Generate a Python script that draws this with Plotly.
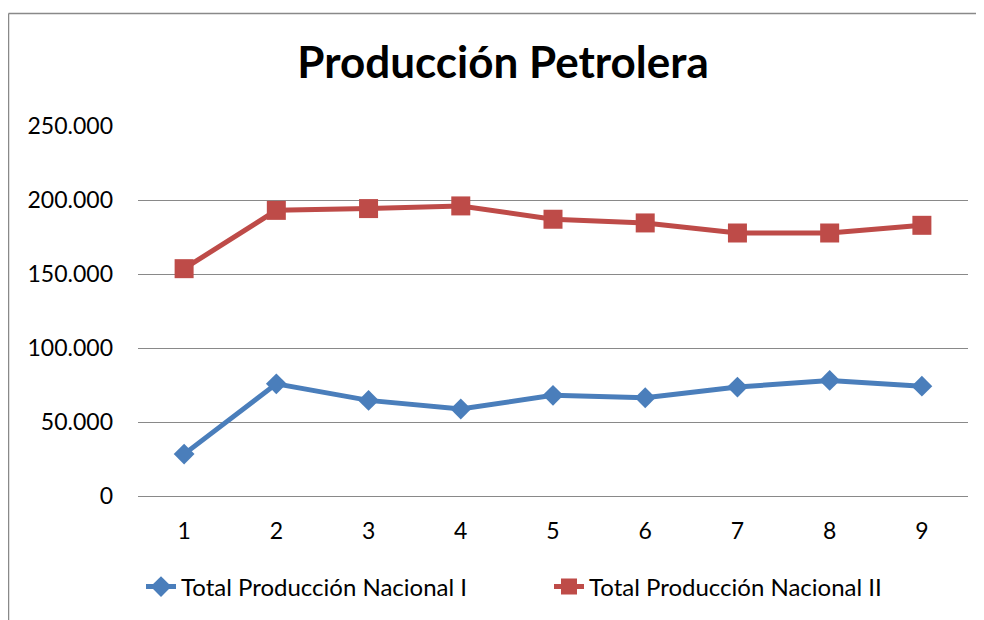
import plotly.graph_objects as go

# periodo (1..9)
periodos = [1, 2, 3, 4, 5, 6, 7, 8, 9]

nacional_1 = [28300, 75800, 64600, 58800, 68000, 66400, 73600, 78100, 74200]
nacional_2 = [153600, 193000, 194200, 196000, 187000, 184500, 177700, 177700, 182900]

nombre_1 = 'Total Producción Nacional I'
nombre_2 = 'Total Producción Nacional II'

azul = '#4A7EBB'
rojo = '#BE4B48'
gris = '#898989'

fig = go.Figure()

fig.add_trace(go.Scatter(
    x=periodos,
    y=nacional_1,
    mode='lines+markers',
    name=nombre_1,
    line=dict(color=azul, width=5),
    marker=dict(symbol='diamond', size=16, color=azul)
))

fig.add_trace(go.Scatter(
    x=periodos,
    y=nacional_2,
    mode='lines+markers',
    name=nombre_2,
    line=dict(color=rojo, width=5),
    marker=dict(symbol='square', size=19, color=rojo)
))

# the page has an 8px body margin, so work in page pixels and shift
OFF = 8
FW, FH = 984 - 2 * OFF, 620 - OFF

# plot area in page pixels: x 138-968, y 126-496
L, R, T, B = 138 - OFF, 968 - OFF, 126 - OFF, 496 - OFF
W = R - L
H = B - T

def px(x):
    return (x - OFF - L) / W

def py(y):
    return (B - (y - OFF)) / H

fig.update_layout(
    width=FW,
    height=FH,
    margin=dict(l=L, r=FW - R, t=T, b=FH - B),
    paper_bgcolor='white',
    plot_bgcolor='white',
    separators=',.',
    font=dict(family='Lato', size=23, color='black'),
    title=dict(
        text='<b>Producción Petrolera</b>',
        font=dict(family='Lato', size=44, color='black'),
        x=(503 - OFF) / FW,
        xanchor='center',
        xref='container',
        y=1 - (63 - OFF) / FH,
        yanchor='middle',
        yref='container'
    ),
    legend=dict(
        orientation='h',
        x=px(141),
        xanchor='left',
        y=py(587),
        yanchor='middle',
        font=dict(family='Lato', size=24, color='black'),
        entrywidth=363,
        entrywidthmode='pixels',
        bgcolor='rgba(0,0,0,0)'
    ),
    showlegend=True
)

fig.update_xaxes(
    range=[0.5, 9.5],
    tickmode='array',
    tickvals=periodos,
    ticktext=[str(p) for p in periodos],
    showgrid=False,
    showline=True,
    linecolor=gris,
    linewidth=1,
    ticks='',
    ticklabelstandoff=14,
    zeroline=False,
    fixedrange=True
)

fig.update_yaxes(
    range=[0, 250000],
    tickmode='linear',
    tick0=0,
    dtick=50000,
    tickformat=',d',
    showgrid=True,
    gridcolor=gris,
    gridwidth=1,
    zeroline=False,
    showline=False,
    ticks='',
    ticklabelstandoff=24,
    fixedrange=True
)

# chart frame: only top and left edges are in view
marco = dict(color=gris, width=1.5)
fig.add_shape(type='line', xref='paper', yref='paper',
              x0=px(8.5), x1=px(1000), y0=py(13.5), y1=py(13.5),
              line=marco, layer='below')
fig.add_shape(type='line', xref='paper', yref='paper',
              x0=px(8.5), x1=px(8.5), y0=py(13.5), y1=py(640),
              line=marco, layer='below')

fig.write_html('out.html')
